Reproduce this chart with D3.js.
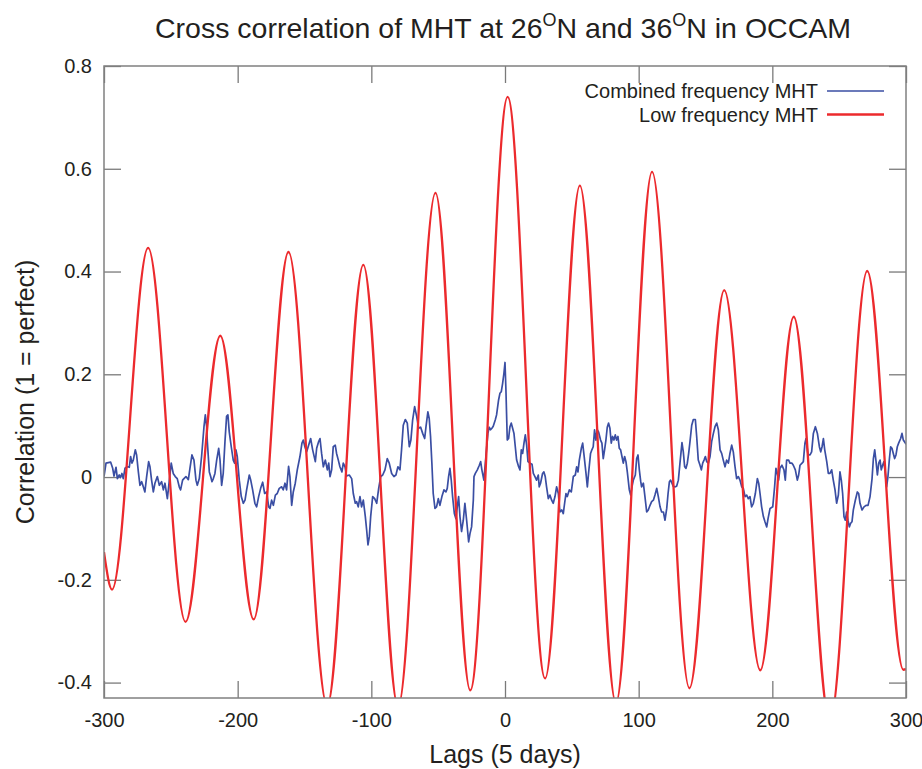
<!DOCTYPE html>
<html><head><meta charset="utf-8">
<script src="https://cdn.jsdelivr.net/npm/d3@7"></script>
<style>
body{margin:0;background:#fff}
svg{display:block}
text{font-family:"Liberation Sans",Arial,Helvetica,sans-serif;fill:#231f20}
</style>
</head><body>
<svg id="c" width="922" height="769"></svg>
<script>
const xTicks = [-300, -200, -100, 0, 100, 200, 300];
const xTickLabels = ["-300", "-200", "-100", "0", "100", "200", "300"];
const yTicks = [-0.4, -0.2, 0, 0.2, 0.4, 0.6, 0.8];
const yTickLabels = ["-0.4", "-0.2", "0", "0.2", "0.4", "0.6", "0.8"];
const seriesNames = ["Combined frequency MHT", "Low frequency MHT"];

// Low frequency MHT: extrema
const lowLags   = [-300, -294, -267, -239, -213, -188, -162, -133, -106, -80, -52, -26, 2, 30, 56, 83, 110, 138, 164, 191, 216, 243, 271, 298, 300];
const lowValues = [-0.146, -0.219, 0.446, -0.282, 0.275, -0.277, 0.438, -0.445, 0.413, -0.447, 0.553, -0.415, 0.740, -0.392, 0.567, -0.44, 0.594, -0.411, 0.364, -0.376, 0.312, -0.477, 0.401, -0.375, -0.374];

// Combined frequency MHT: [lag, correlation]
const combined = [
[-300,0.001],[-298.5,0.027],[-295,0.029],[-293.5,0.017],[-292.5,0.002],[-291,0.019],[-290,-0.003],[-288.6,0.004],[-287.6,-0.001],[-286.6,0.007],
[-285.6,-0.003],[-284.3,0.017],[-282.6,0.020],[-281.1,0.019],[-280.1,0.040],[-279.1,0.027],[-278.1,0.033],[-276.6,0.053],[-275.6,0.043],[-274.3,0.010],
[-273.1,-0.016],[-271.8,-0.009],[-270.6,-0.019],[-269.4,-0.029],[-268.1,0.001],[-266.6,0.030],[-265.6,0.020],[-264.4,-0.006],[-263.1,-0.029],[-261.9,-0.012],
[-260.1,0.001],[-258.6,-0.016],[-256.9,-0.009],[-255.6,-0.025],[-254.4,-0.012],[-252.6,-0.042],[-251.1,-0.006],[-249.7,0.027],[-248.2,0.007],[-246.7,0.001],
[-245.2,-0.003],[-243.7,-0.019],[-242.7,-0.025],[-241.2,-0.006],[-240.2,-0.003],[-238.7,0.001],[-236.9,-0.005],[-235.7,0.017],[-234.2,0.043],[-232.7,0.033],
[-231.2,-0.006],[-230.2,-0.016],[-228.7,-0.003],[-227,0.040],[-225.2,0.098],[-224.2,0.121],[-223.2,0.098],[-222.7,0.069],[-221.2,0.010],[-220.2,0.001],
[-219.2,-0.009],[-218.2,-0.003],[-217,0.007],[-215.7,0.033],[-214.2,0.056],[-213.2,0.033],[-212,-0.016],[-210.8,0.007],[-209.5,0.069],[-208.3,0.118],
[-207.3,0.121],[-206.3,0.088],[-204.8,0.059],[-203.3,0.033],[-202.3,0.027],[-201.3,0.053],[-200.3,0.040],[-198.8,-0.006],[-197.3,-0.038],[-195.8,-0.051],
[-194.5,-0.045],[-193.3,-0.025],[-191.3,0.004],[-190.3,-0.005],[-188.8,-0.025],[-187.1,-0.051],[-185.8,-0.058],[-184.3,-0.038],[-182.8,-0.022],[-181.3,-0.010],
[-179.8,-0.032],[-178.3,-0.029],[-176.8,-0.058],[-175.8,-0.061],[-174.6,-0.045],[-173.3,-0.055],[-171.8,-0.035],[-170.4,-0.032],[-168.9,-0.022],[-167.1,-0.019],
[-165.9,-0.025],[-164.6,-0.012],[-163.4,-0.025],[-161.9,0.021],[-160.9,0.001],[-159.6,-0.055],[-158.4,-0.029],[-156.9,-0.012],[-155.4,0.014],[-153.4,0.040],
[-151.9,0.066],[-150.9,0.072],[-149.7,0.059],[-148.4,0.049],[-146.9,0.062],[-145.4,0.075],[-143.9,0.053],[-141.9,0.030],[-140.9,0.056],[-139.4,0.069],
[-138.4,0.075],[-137.2,0.046],[-135.9,0.020],[-134.4,0.033],[-132.9,0.014],[-131.9,0.027],[-130.9,0.001],[-129.7,0.014],[-128.5,0.059],[-127,0.062],
[-126,0.046],[-124.7,0.033],[-123.5,0.020],[-122,0.010],[-121,0.027],[-119.7,0.020],[-118.5,0.002],[-116.5,0.004],[-114.7,-0.003],[-113.5,-0.032],
[-112,-0.051],[-111,-0.048],[-109.8,-0.058],[-108.5,-0.038],[-107.3,-0.058],[-106,-0.045],[-104.5,-0.077],[-103.5,-0.103],[-102.5,-0.132],[-101.5,-0.116],
[-100.5,-0.077],[-99,-0.038],[-97.5,-0.042],[-96,-0.051],[-94.5,-0.022],[-93,0.001],[-91.5,0.004],[-89.8,0.014],[-88.1,0.036],[-86.6,0.027],
[-84.8,0.007],[-83.1,0.001],[-81.6,0.004],[-80.1,0.020],[-78.6,0.014],
[-77.4,0.053],[-76.1,0.101],[-74.6,0.112],[-73.1,0.105],[-71.6,0.059],[-70.4,0.072],[-69.1,0.111],[-67.6,0.137],[-66.1,0.118],[-64.6,0.095],
[-63.1,0.097],[-61.6,0.085],[-60.1,0.075],[-59.1,0.098],[-57.7,0.127],[-56.7,0.114],[-55.7,0.079],[-54.7,0.027],[-53.7,-0.032],[-52.4,-0.061],
[-51.2,-0.058],[-49.9,-0.042],[-48.7,-0.055],[-47.2,-0.038],[-45.7,-0.025],[-44.2,-0.029],[-43.2,-0.022],[-42.2,0.001],[-41.2,0.017],[-40.2,-0.006],
[-39.2,-0.038],[-37.9,-0.071],[-36.7,-0.081],[-35.7,-0.058],[-34.7,-0.038],[-33.7,-0.077],[-32.5,-0.106],[-31.2,-0.084],[-30,-0.051],[-28.7,-0.084],
[-27.2,-0.126],[-26.2,-0.110],[-25,-0.097],[-23.7,-0.045],[-23.2,0.001],[-22.2,0.007],[-20.7,0.014],[-19.2,0.023],[-18.2,0.030],[-17.3,0.014],
[-15.8,-0.006],[-14.3,0.040],[-12.8,0.085],[-11.8,0.097],[-10.8,0.092],[-9.8,0.095],[-8.8,0.099],[-7.3,0.111],[-6.3,0.121],[-4.8,0.150],
[-3.8,0.163],[-2.8,0.166],[-1.8,0.182],[-0.8,0.202],[0,0.223],[0.7,0.169],[1.7,0.072],[2.7,0.075],[3.7,0.098],[4.7,0.105],
[5.7,0.095],[6.7,0.085],[7.7,0.059],[8.7,0.033],[10.2,0.020],[11.2,0.014],[12.2,0.053],[13.2,0.046],[14.2,0.066],[15.2,0.082],
[16.2,0.062],[17.2,0.030],[18.7,0.027],[20.2,0.025],[21.2,0.007],[22.4,0.001],[23.6,-0.006],[24.9,0.004],[25.6,-0.019],[26.6,-0.012],
[28.1,0.007],[29.1,0.010],[30.1,0.001],[31.1,-0.019],[32.4,-0.042],[33.6,-0.035],[34.9,-0.045],[36.1,-0.051],[37.4,-0.038],[38.6,-0.019],
[39.9,-0.032],[41.1,-0.068],[42.4,-0.064],[43.6,-0.071],[44.6,-0.051],[45.6,-0.032],[46.6,-0.038],[48.1,-0.025],[49.6,-0.029],[51.1,0.001],
[52.6,0.004],[53.6,0.020],[54.6,0.010],[55.6,0.033],[57.1,0.056],[58.1,0.066],[59.1,0.043],[60.6,0.007],[61.6,-0.019],[62.5,0.007],
[64,0.046],[65,0.053],[66,0.059],[67,0.092],[68,0.072],[69,0.092],[70,0.088],[71.5,0.072],[72.5,0.066],[73.5,0.036],
[74.5,0.053],[75.5,0.072],[76.5,0.097],[77.5,0.105],[78.5,0.095],[79.5,0.066],[80.5,0.079],[81.5,0.072],[82.5,0.082],[83.5,0.072],
[84.5,0.079],[85.5,0.056],[86.5,0.053],[87.5,0.040],[88.5,0.027],[89.5,0.040],[90.5,0.030],[91.5,0.010],[93,-0.025],[94,-0.035],
[95,-0.019],[96,-0.006],[97.5,0.004],[98.5,0.036],[99.5,0.043],[100.5,0.014],
[101.5,-0.008],[102.2,-0.019],[103.5,-0.012],[104.7,-0.038],[106,-0.068],[107.2,-0.064],[108.5,-0.055],[109.7,-0.048],[111,-0.045],[112.2,-0.035],
[113.5,-0.022],[114.7,-0.038],[116,-0.058],[117.2,-0.068],[118.5,-0.068],[119.7,-0.084],[121,-0.061],[122,-0.032],[123,-0.009],[123.9,-0.006],
[124.9,-0.012],[125.9,-0.018],[127.4,-0.019],[128.4,-0.018],[129.7,-0.006],[130.9,0.027],[132.4,0.067],[133.4,0.049],[134.4,0.020],[135.4,0.017],
[136.4,0.027],[137.4,0.046],[138.4,0.069],[139.7,0.101],[140.9,0.112],[142.4,0.112],[143.4,0.079],[144.6,0.033],[145.9,0.023],[146.9,0.014],
[147.9,0.027],[148.9,0.033],[149.9,0.040],[150.9,0.030],[152.1,0.027],[153.4,0.040],[154.6,0.069],[155.9,0.085],[157.1,0.098],[158.4,0.105],
[159.6,0.092],[160.9,0.053],[162.1,0.046],[163.3,0.033],[164.6,0.020],[165.8,0.033],[167.1,0.027],[168.3,0.046],[169.6,0.062],[170.8,0.049],
[172.1,0.020],[173.3,-0.003],[174.6,0.001],[175.8,-0.006],[177.1,-0.019],[178.3,-0.022],[179.6,-0.038],[180.8,-0.035],[182,-0.042],[183.3,-0.038],
[184.5,-0.058],[185.8,-0.051],[187.3,-0.032],[188.8,-0.003],[189.8,-0.012],[190.8,-0.032],[192,-0.058],[193.3,-0.077],[194.5,-0.087],[195.8,-0.097],
[196.8,-0.081],[198.3,-0.061],[200.3,-0.058],[201.7,-0.019],[202.7,0.017],[203.7,0.007],[204.7,-0.006],[205.7,0.017],[207.2,0.023],[208.7,0.014],
[209.7,-0.006],[210.7,0.033],[212.2,0.033],[213.2,0.027],[214.7,0.027],[215.7,0.023],[217.2,0.014],[218.7,-0.006],[219.7,0.004],[220.7,0.023],
[222.2,0.027],[223.2,0.030],[224.4,0.066],[225.2,0.075],[226.7,0.043],[228.2,0.043],[229.4,0.049],[230.7,0.085],[232.2,0.098],[233.7,0.085],
[235.2,0.059],[236.2,0.049],[237.2,0.059],[238.2,0.075],[239.2,0.053],[240.7,0.030],[241.9,0.007],[243.1,0.007],[244.4,0.014],[245.6,-0.006],
[246.9,-0.025],[248.1,-0.051],[249.4,-0.035],[250.6,0.010],[251.6,-0.006],[252.6,-0.032],[253.6,-0.077],[254.6,-0.084],[255.6,-0.068],[256.6,-0.084],
[257.6,-0.097],[258.6,-0.090],[259.6,-0.087],[260.6,-0.064],[262.1,-0.045],[263.6,-0.029],[264.6,-0.032],[265.6,-0.051],[267.1,-0.064],[268.6,-0.058],
[270.1,-0.055],[271.6,-0.055],[273.1,-0.038],[274.6,-0.003],[275.6,0.036],[276.6,0.053],[277.6,0.030],[278.6,0.004],[279.6,0.027],[280.6,0.033],
[281.5,0.014],[282.5,0.023],[283.5,0.030],[284.5,0.007],[285.5,-0.019],[286.5,0.001],[287.5,0.033],[288.5,0.059],[289.5,0.056],[290.5,0.046],
[291.5,0.036],[292.5,0.043],[293.5,0.059],[294.5,0.066],[296,0.075],[297,0.085],[298,0.072],[299.5,0.066],[300,0.064]
];

const svg = d3.select("#c");
const L = 104, R = 906, T = 66, B = 698;
const x = d3.scaleLinear().domain([-300, 300]).range([L, R]);
const y = d3.scaleLinear().domain([-0.43, 0.8]).range([B, T]);

const tickCol = "#7a7a7a";
const TS = 17;

function styleAxis(g) {
  g.select(".domain").remove();
  g.selectAll(".tick line").attr("stroke", tickCol).attr("stroke-width", 1.3);
  g.selectAll(".tick text").attr("fill", "#231f20").style("font-size", "20px");
}

svg.append("g").attr("transform", `translate(0,${B})`)
  .call(d3.axisBottom(x).tickValues(xTicks).tickFormat((d, i) => xTickLabels[i]).tickSizeInner(-TS).tickSizeOuter(0).tickPadding(15))
  .call(styleAxis);
svg.append("g").attr("transform", `translate(0,${T})`)
  .call(d3.axisTop(x).tickValues(xTicks).tickFormat("").tickSizeInner(-TS).tickSizeOuter(0))
  .call(styleAxis);
svg.append("g").attr("transform", `translate(${L},0)`)
  .call(d3.axisLeft(y).tickValues(yTicks).tickFormat((d, i) => yTickLabels[i]).tickSizeInner(-TS).tickSizeOuter(0).tickPadding(12))
  .call(styleAxis);
svg.append("g").attr("transform", `translate(${R},0)`)
  .call(d3.axisRight(y).tickValues(yTicks).tickFormat("").tickSizeInner(-TS).tickSizeOuter(0))
  .call(styleAxis);

svg.append("defs").append("clipPath").attr("id", "clip")
  .append("rect").attr("x", L).attr("y", T).attr("width", R - L).attr("height", B - T);

const plot = svg.append("g").attr("clip-path", "url(#clip)");

plot.append("path")
  .attr("d", d3.line().x(d => x(d[0])).y(d => y(d[1]))(combined))
  .attr("fill", "none").attr("stroke", "#3a4ea3").attr("stroke-width", 1.7).attr("stroke-linejoin", "round");

const lowData = lowLags.map((l, i) => [l, lowValues[i]]);
plot.append("path")
  .attr("d", d3.line().x(d => x(d[0])).y(d => y(d[1])).curve(d3.curveMonotoneX)(lowData))
  .attr("fill", "none").attr("stroke", "#ec2a2d").attr("stroke-width", 2.3);

// frame
svg.append("rect").attr("x", L).attr("y", T).attr("width", R - L).attr("height", B - T)
  .attr("fill", "none").attr("stroke", "#808080").attr("stroke-width", 1.5);

// legend
const legCols = ["#3a4ea3", "#ec2a2d"];
const legY = [91, 114.5];
seriesNames.forEach((n, i) => {
  svg.append("text").attr("x", 818).attr("y", legY[i] + 7).attr("text-anchor", "end")
    .style("font-size", "20px").text(n);
  svg.append("line").attr("x1", 827).attr("x2", 884).attr("y1", legY[i]).attr("y2", legY[i])
    .attr("stroke", legCols[i]).attr("stroke-width", i ? 2.3 : 1.7);
});

// title
const title = svg.append("text").attr("x", 503).attr("y", 38).attr("text-anchor", "middle").style("font-size", "28.5px");
title.append("tspan").text("Cross correlation of MHT at 26");
title.append("tspan").attr("dy", -12).style("font-size", "18px").text("O");
title.append("tspan").attr("dy", 12).text("N and 36");
title.append("tspan").attr("dy", -12).style("font-size", "18px").text("O");
title.append("tspan").attr("dy", 12).text("N in OCCAM");

// axis labels
svg.append("text").attr("x", 505).attr("y", 763).attr("text-anchor", "middle").style("font-size", "25px").text("Lags (5 days)");
svg.append("text").attr("transform", "translate(34,392) rotate(-90)").attr("text-anchor", "middle").style("font-size", "25px").text("Correlation (1 = perfect)");
</script>
</body></html>
